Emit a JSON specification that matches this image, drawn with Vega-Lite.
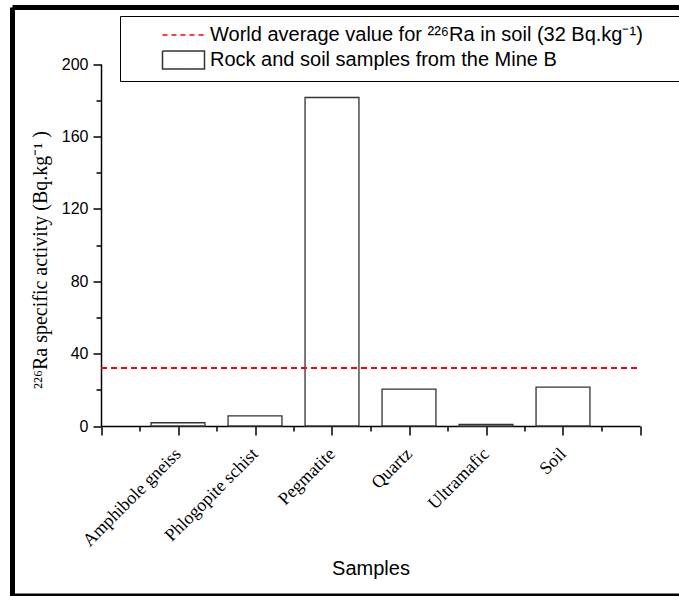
{
  "$schema": "https://vega.github.io/schema/vega-lite/v6.json",
  "autosize": {"type": "none"},
  "padding": {"left": 12.5, "top": 7.5, "right": 0, "bottom": 0},
  "width": 666.5,
  "height": 588.5,
  "background": "white",
  "view": {"stroke": "#000000", "strokeWidth": 5, "strokeDash": [666.5, 588.5, 1255, 0]},
  "config": {
    "font": "Liberation Sans",
    "axis": {"domainColor": "#000000", "tickColor": "#000000", "labelColor": "#000000", "titleColor": "#000000", "grid": false, "domainWidth": 1.5, "tickWidth": 1.5}
  },
  "data": {
    "values": [
      {"Sample": "Amphibole gneiss", "Activity": 1.8},
      {"Sample": "Phlogopite schist", "Activity": 5.6},
      {"Sample": "Pegmatite", "Activity": 181.5},
      {"Sample": "Quartz", "Activity": 20.4},
      {"Sample": "Ultramafic", "Activity": 0.9},
      {"Sample": "Soil", "Activity": 21.5}
    ]
  },
  "layer": [
    {
      "mark": {"type": "bar", "fill": "white", "strokeWidth": 1.3, "width": {"band": 0.7}},
      "encoding": {
        "x": {
          "field": "Sample", "type": "nominal", "sort": null,
          "scale": {"range": [88.5, 627.5], "paddingInner": 0, "paddingOuter": 0.5},
          "axis": {
            "orient": "bottom", "offset": -170, "tickBand": "extent", "tickSize": 5,
            "labelAngle": -45, "labelAlign": "right", "labelBaseline": "middle",
            "labelFont": "Liberation Serif", "labelFontSize": 18, "labelPadding": 20,
            "title": "Samples", "titleFontSize": 20, "titleFontWeight": "normal",
            "titleY": 148, "titleBaseline": "alphabetic"
          }
        },
        "y": {
          "field": "Activity", "type": "quantitative",
          "scale": {"domain": [0, 200], "range": [418.5, 56.5], "nice": false},
          "axis": {
            "orient": "left", "offset": -88.5, "values": [0, 40, 80, 120, 160, 200],
            "tickSize": 8, "labelFontSize": 16, "labelPadding": 5,
            "title": "²²⁶Ra specific activity (Bq.kg⁻¹ )", "titleFont": "Liberation Serif",
            "titleFontSize": 20, "titleFontWeight": "normal", "titleX": -51, "titleY": 252
          }
        },
        "stroke": {"datum": "Rock and soil samples from the Mine B", "type": "nominal"}
      }
    },
    {
      "mark": {"type": "rule", "strokeDash": [6, 4], "strokeWidth": 1.3},
      "encoding": {
        "x": {
          "datum": 0, "type": "quantitative",
          "scale": {"domain": [0, 7], "range": [88.5, 627.5], "nice": false, "zero": false},
          "axis": {"orient": "bottom", "offset": -170, "values": [0, 1, 2, 3, 4, 5, 6, 7], "tickSize": 9, "labels": false, "domain": false, "title": null}
        },
        "x2": {"datum": 7},
        "y": {
          "datum": 32, "type": "quantitative",
          "axis": {"orient": "left", "offset": -88.5, "values": [20, 60, 100, 140, 180], "tickSize": 5, "labels": false, "domain": false, "title": null}
        },
        "stroke": {
          "datum": "World average value for ²²⁶Ra in soil (32 Bq.kg⁻¹)", "type": "nominal",
          "scale": {
            "domain": ["World average value for ²²⁶Ra in soil (32 Bq.kg⁻¹)", "Rock and soil samples from the Mine B"],
            "range": ["#ff0000", "#333333"]
          },
          "legend": {
            "orient": "none", "legendX": 107.5, "legendY": 8.5, "title": null, "direction": "vertical",
            "strokeColor": "#000000", "padding": 9, "rowPadding": 3,
            "symbolOffset": 44.5, "labelOffset": 16.5, "symbolSize": 324, "symbolStrokeWidth": 1.5,
            "labelFont": "Liberation Sans", "labelFontSize": 20, "labelColor": "#000000", "labelLimit": 1200,
            "encode": {
              "symbols": {
                "update": {
                  "shape": {"signal": "datum.index === 0 ? 'M-2.333,0H2.333M60,0' : 'M-2.333,-1H2.333V1H-2.333ZM60,0'"},
                  "fill": {"value": "transparent"},
                  "strokeDash": {"signal": "datum.index === 0 ? [5, 4] : [1, 0]"}
                }
              }
            }
          }
        }
      }
    }
  ],
  "resolve": {"scale": {"x": "independent"}, "axis": {"x": "independent", "y": "independent"}}
}
